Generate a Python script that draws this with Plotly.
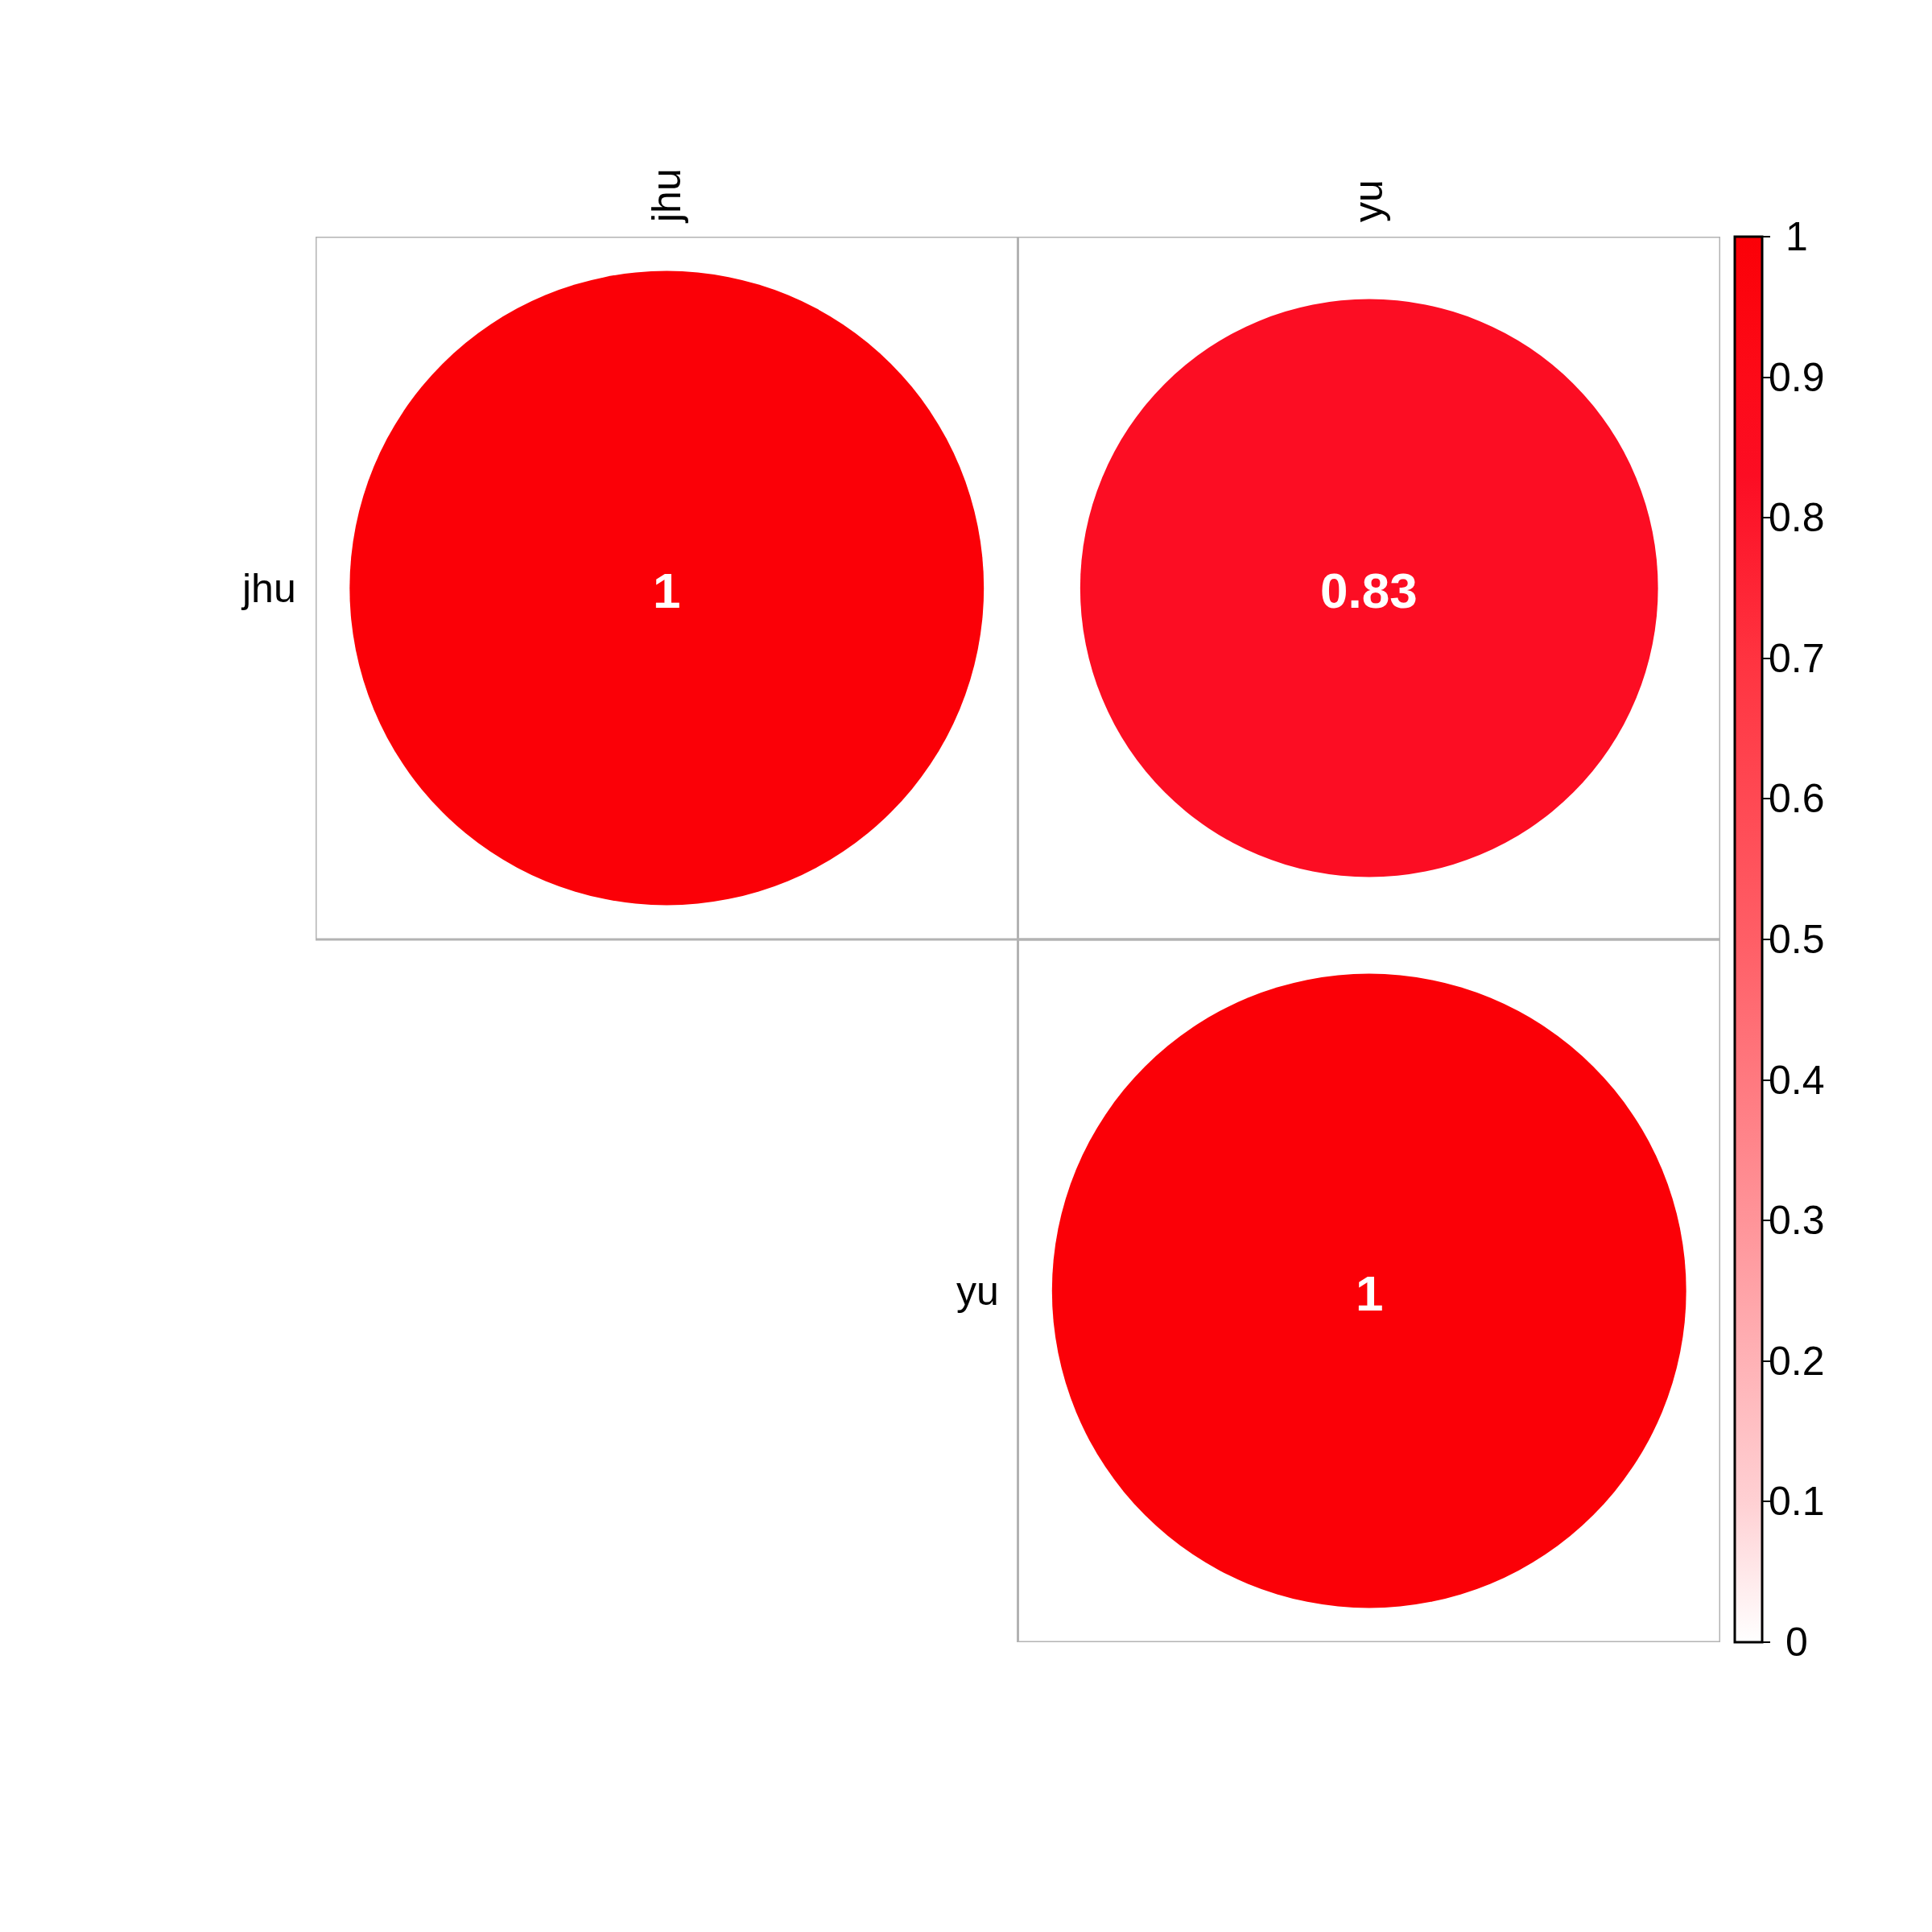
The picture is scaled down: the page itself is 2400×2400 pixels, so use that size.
import plotly.graph_objects as go
import numpy as np

variables = ["jhu", "yu"]
corr = [[1.0, 0.83],
        [0.83, 1.0]]
colorbar_ticks = [0, 0.1, 0.2, 0.3, 0.4, 0.5, 0.6, 0.7, 0.8, 0.9, 1]

W, H = 2400, 2400
L, R, T, B = 384, 271, 286, 368
plot_w = W - L - R
n = len(variables)
cell_px = plot_w / n
FONT = "Liberation Sans, Arial, Helvetica, sans-serif"
CB_LEFT = 2147          # colorbar left edge (px, figure coords)
CB_THICK = 34
CB_TICKLEN = 9
CB_LABEL_CENTER = 2224  # centre of colorbar tick labels (px, figure coords)

colorscale = [
    [0.0, "#FFFFFF"], [0.1, "#FFD0D3"], [0.3, "#FF9499"], [0.5, "#FF5E66"],
    [0.7, "#FF3340"], [0.83, "#FC0D23"], [0.9, "#FD0A18"], [1.0, "#FB0007"],
]

xs, ys, vals, sizes, texts = [], [], [], [], []
for i in range(n):
    for j in range(i, n):
        v = corr[i][j]
        xs.append(variables[j])
        ys.append(variables[i])
        vals.append(v)
        sizes.append(0.903 * cell_px * np.sqrt(abs(v)))
        texts.append(f"{v:g}")

fig = go.Figure()
fig.add_trace(go.Scatter(
    x=xs, y=ys, mode="markers",
    marker=dict(size=sizes, sizemode="diameter", color=vals, colorscale=colorscale,
                cmin=0, cmax=1, line=dict(width=0), opacity=1,
                colorbar=dict(
                    x=(CB_LEFT - L) / plot_w, xanchor="left", xpad=0,
                    y=0.5, yanchor="middle", len=1, lenmode="fraction", ypad=0,
                    thickness=CB_THICK, outlinecolor="black", outlinewidth=3,
                    ticks="outside", ticklen=CB_TICKLEN, tickwidth=2, tickcolor="black",
                    tickvals=colorbar_ticks, showticklabels=False,
                )),
    showlegend=False, hoverinfo="skip",
))

shapes = []
for i in range(n):
    for j in range(i, n):
        shapes.append(dict(type="rect", xref="x", yref="y",
                           x0=j - 0.5, x1=j + 0.5, y0=i - 0.5, y1=i + 0.5,
                           line=dict(color="#B3B3B3", width=3), layer="below"))

annotations = []
for i, name in enumerate(variables):
    annotations.append(dict(x=i - 0.5, y=name, xref="x", yref="y", text=name,
                            showarrow=False, xanchor="right", yanchor="middle",
                            xshift=-22,
                            font=dict(family=FONT, size=50, color="black")))
for x, y, t in zip(xs, ys, texts):
    annotations.append(dict(x=x, y=y, xref="x", yref="y", text=t,
                            showarrow=False, xanchor="center", yanchor="middle",
                            yshift=-3,
                            font=dict(family=FONT, size=62, color="white",
                                      weight="bold")))
# colorbar tick labels (centred, as in the reference)
for t in colorbar_ticks:
    annotations.append(dict(x=(CB_LABEL_CENTER - L) / plot_w, y=t,
                            xref="paper", yref="paper", text=f"{t:g}",
                            showarrow=False, xanchor="center", yanchor="middle",
                            font=dict(family=FONT, size=50, color="black")))

fig.update_layout(
    width=W, height=H, margin=dict(l=L, r=R, t=T, b=B, autoexpand=False),
    paper_bgcolor="white", plot_bgcolor="white",
    shapes=shapes, annotations=annotations,
    xaxis=dict(type="category", categoryarray=variables, range=[-0.5, n - 0.5],
               side="top", tickangle=-90, showgrid=False, zeroline=False,
               showline=False, ticks="", ticklabelstandoff=17,
               tickfont=dict(family=FONT, size=50, color="black")),
    yaxis=dict(type="category", categoryarray=variables, range=[n - 0.5, -0.5],
               showgrid=False, zeroline=False, showline=False, showticklabels=False,
               ticks=""),
)

fig.write_html("out.html")
